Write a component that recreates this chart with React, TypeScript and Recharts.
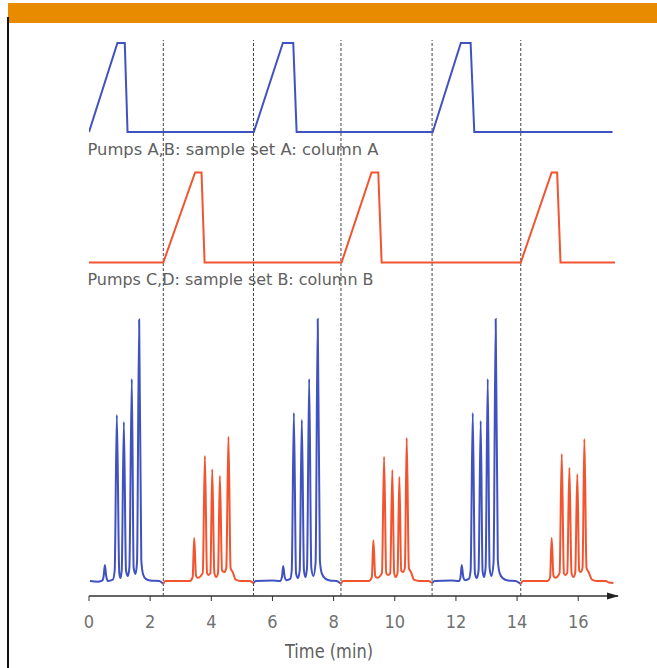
import React from "react"
import { ComposedChart, Line, XAxis, YAxis, ReferenceLine, ReferenceDot, Customized } from "recharts"

// gradient programmes (% strong solvent) for the two pump pairs
const gradientAB: Array<[number, number]> = [
  [0, 0], [0.93, 100], [1.17, 100], [1.26, 0], [5.39, 0], [6.34, 100], [6.68, 100], [6.79, 0],
  [11.24, 0], [12.16, 100], [12.48, 100], [12.6, 0], [17.12, 0],
]
const gradientCD: Array<[number, number]> = [
  [0, 0], [2.43, 0], [3.47, 100], [3.68, 100], [3.78, 0], [8.26, 0], [9.24, 100], [9.46, 100], [9.57, 0],
  [14.12, 0], [15.13, 100], [15.31, 100], [15.42, 0], [17.2, 0],
]

// detector trace, relative response, split by column
const chromA1: Array<[number, number]> = [
  [0.03, 0], [0.3, -0.3], [0.44, 0.2], [0.48, 2], [0.52, 6.1], [0.56, 2], [0.62, 0], [0.78, 0.5], [0.84, 4],
  [0.91, 63.4], [0.99, 3], [1.03, 1.1], [1.07, 4], [1.14, 60.7], [1.21, 4], [1.27, 1.9], [1.32, 5], [1.4, 77.1],
  [1.46, 5], [1.52, 2.7], [1.57, 7], [1.64, 99.8], [1.71, 8], [1.77, 2.5], [1.86, 0.8], [2.0, 0.2], [2.3, 0], [2.43, -1.1],
]
const chromB1: Array<[number, number]> = [
  [2.43, -1.1], [2.5, 0], [3.3, 0], [3.39, 1.5], [3.44, 16.4], [3.5, 2], [3.55, 1.2], [3.72, 3], [3.79, 47.7],
  [3.86, 3], [3.91, 2.3], [3.97, 3], [4.03, 42.7], [4.1, 3], [4.16, 1.5], [4.22, 3], [4.28, 40.1], [4.35, 4],
  [4.42, 3.4], [4.49, 5], [4.56, 55.1], [4.63, 5], [4.7, 3.4], [4.8, 0.5], [4.95, 0], [5.25, 0], [5.38, -0.8],
]
const chromA2: Array<[number, number]> = [
  [5.38, -0.8], [5.45, 0], [6.0, 0.2], [6.25, 0], [6.31, 1.5], [6.35, 5.7], [6.4, 1.5], [6.46, 0.3], [6.58, 0.8],
  [6.63, 4], [6.7, 64.1], [6.77, 3], [6.83, 1.1], [6.89, 4], [6.96, 61.5], [7.03, 4], [7.08, 1.5], [7.13, 5],
  [7.2, 77.1], [7.27, 5], [7.34, 1.9], [7.41, 7], [7.48, 100], [7.55, 8], [7.61, 3], [7.72, 1], [7.88, 0.2],
  [8.1, 0], [8.24, -1.1],
]
const chromB2: Array<[number, number]> = [
  [8.24, -1.1], [8.31, 0], [9.15, 0], [9.25, 1.5], [9.3, 15.6], [9.36, 2], [9.42, 1.2], [9.58, 3], [9.65, 47.4],
  [9.72, 3], [9.78, 2.3], [9.85, 3], [9.92, 42.4], [9.98, 3], [10.03, 1.5], [10.09, 3], [10.15, 39.7], [10.21, 4],
  [10.27, 3.4], [10.33, 5], [10.39, 54.6], [10.46, 5], [10.53, 3.4], [10.63, 0.5], [10.8, 0], [11.1, 0], [11.22, -0.8],
]
const chromA3: Array<[number, number]> = [
  [11.22, -0.8], [11.3, 0], [11.85, 0.2], [12.1, 0], [12.15, 1.5], [12.19, 6.1], [12.24, 1.5], [12.3, 0.3],
  [12.42, 0.8], [12.48, 4], [12.55, 64.1], [12.62, 3], [12.68, 1.1], [12.74, 4], [12.81, 61.1], [12.87, 4],
  [12.92, 1.5], [12.97, 5], [13.04, 77.1], [13.1, 5], [13.16, 1.9], [13.23, 7], [13.3, 100], [13.37, 8],
  [13.43, 3], [13.54, 1], [13.7, 0.2], [13.95, 0], [14.12, -1.1],
]
const chromB3: Array<[number, number]> = [
  [14.12, -1.1], [14.2, 0], [15.0, 0], [15.08, 1.5], [15.13, 16.4], [15.19, 2], [15.25, 1.2], [15.39, 3],
  [15.46, 48.5], [15.53, 3], [15.58, 2.3], [15.64, 3], [15.71, 43.2], [15.78, 3], [15.84, 1.5], [15.9, 3],
  [15.97, 40.8], [16.03, 4], [16.08, 3.4], [16.14, 5], [16.2, 54.2], [16.27, 5], [16.34, 3.4], [16.45, 0.5],
  [16.6, 0], [16.9, 0], [17.0, -0.6], [17.15, -0.8],
]

// column switch times (min)
const switchTimes = [2.43, 5.38, 8.24, 11.22, 14.12]
const timeTicks = [0, 2, 4, 6, 8, 10, 12, 14, 16]
const timeMax = 17.3

const BLUE = "#4052c0"
const RED = "#f25430"
const FONT = '"DejaVu Sans Condensed", "Liberation Sans Narrow", "Open Sans", sans-serif'

// plot area in pixels
const PLOT_TOP = 40
const PLOT_BOTTOM = 596

// y domain that puts value v0 at pixel p0 and v1 at pixel p1
function domainFor(v0: number, p0: number, v1: number, p1: number): [number, number] {
  const k = (v1 - v0) / (p0 - p1)
  return [v0 - (PLOT_BOTTOM - p0) * k, v0 + (p0 - PLOT_TOP) * k]
}

const toPoints = (arr: Array<[number, number]>) => arr.map(([t, v]) => ({ t, v }))

const TimeTick = (props: any) => {
  const { x, y, payload } = props
  return (
    <text x={x} y={y + 25} textAnchor="middle" fontSize={18} fill="#707070" fontFamily={FONT}>
      {payload.value}
    </text>
  )
}

const Texts = () => (
  <g fontFamily={FONT} fill="#606060">
    <text x={87.5} y={154.5} fontSize={16} textLength={291} lengthAdjust="spacingAndGlyphs">
      Pumps A,B: sample set A: column A
    </text>
    <text x={87.5} y={285} fontSize={16} textLength={286} lengthAdjust="spacingAndGlyphs">
      Pumps C,D: sample set B: column B
    </text>
    <text x={285} y={658} fontSize={19} textLength={88} lengthAdjust="spacingAndGlyphs">
      Time (min)
    </text>
  </g>
)

const Arrow = (props: any) => {
  const { cx, cy } = props
  return <polygon points={`${cx + 1},${cy} ${cx - 11},${cy - 3.5} ${cx - 11},${cy + 3.5}`} fill="#222" />
}

export default function App() {
  const domAB = domainFor(0, 132, 100, 43)
  const domCD = domainFor(0, 262.5, 100, 172.5)
  const domChrom = domainFor(0, 581, 100, 319)

  const chromBlue = [chromA1, chromA2, chromA3]
  const chromRed = [chromB1, chromB2, chromB3]

  return (
    <div style={{ position: "absolute", left: 0, top: 0, width: 657, height: 668, background: "#fff" }}>
      <div style={{ position: "absolute", left: 7.5, top: 3, width: 650, height: 20, background: "#e98b00" }} />
      <div style={{ position: "absolute", left: 7, top: 17, width: 1.5, height: 651, background: "#111" }} />
      <div style={{ position: "absolute", left: 0, top: 0 }}>
        <ComposedChart width={657} height={668} margin={{ top: PLOT_TOP, right: 39, bottom: 0, left: 89 }}>
          <XAxis
            dataKey="t"
            type="number"
            domain={[0, timeMax]}
            ticks={timeTicks}
            allowDataOverflow
            height={72}
            axisLine={{ stroke: "#333", strokeWidth: 1.5 }}
            tickLine={{ stroke: "#333" }}
            tickSize={5}
            tick={<TimeTick />}
            interval={0}
          />
          <YAxis yAxisId="ab" type="number" domain={domAB} allowDataOverflow hide />
          <YAxis yAxisId="cd" type="number" domain={domCD} allowDataOverflow hide />
          <YAxis yAxisId="chrom" type="number" domain={domChrom} allowDataOverflow hide />

          {switchTimes.map((m) => (
            <ReferenceLine key={m} x={m} yAxisId="chrom" stroke="#444" strokeWidth={1} strokeDasharray="3 2" />
          ))}

          <Line yAxisId="ab" data={toPoints(gradientAB)} dataKey="v" type="linear" stroke={BLUE} strokeWidth={2} dot={false} isAnimationActive={false} />
          <Line yAxisId="cd" data={toPoints(gradientCD)} dataKey="v" type="linear" stroke={RED} strokeWidth={2} dot={false} isAnimationActive={false} />

          {chromBlue.map((c, i) => (
            <Line key={`a${i}`} yAxisId="chrom" data={toPoints(c)} dataKey="v" type="monotone" stroke={BLUE} strokeWidth={2} dot={false} isAnimationActive={false} />
          ))}
          {chromRed.map((c, i) => (
            <Line key={`b${i}`} yAxisId="chrom" data={toPoints(c)} dataKey="v" type="monotone" stroke={RED} strokeWidth={2} dot={false} isAnimationActive={false} />
          ))}

          <ReferenceDot x={timeMax} y={domChrom[0]} yAxisId="chrom" ifOverflow="visible" shape={<Arrow />} />
          <Customized component={Texts} />
        </ComposedChart>
      </div>
    </div>
  )
}
